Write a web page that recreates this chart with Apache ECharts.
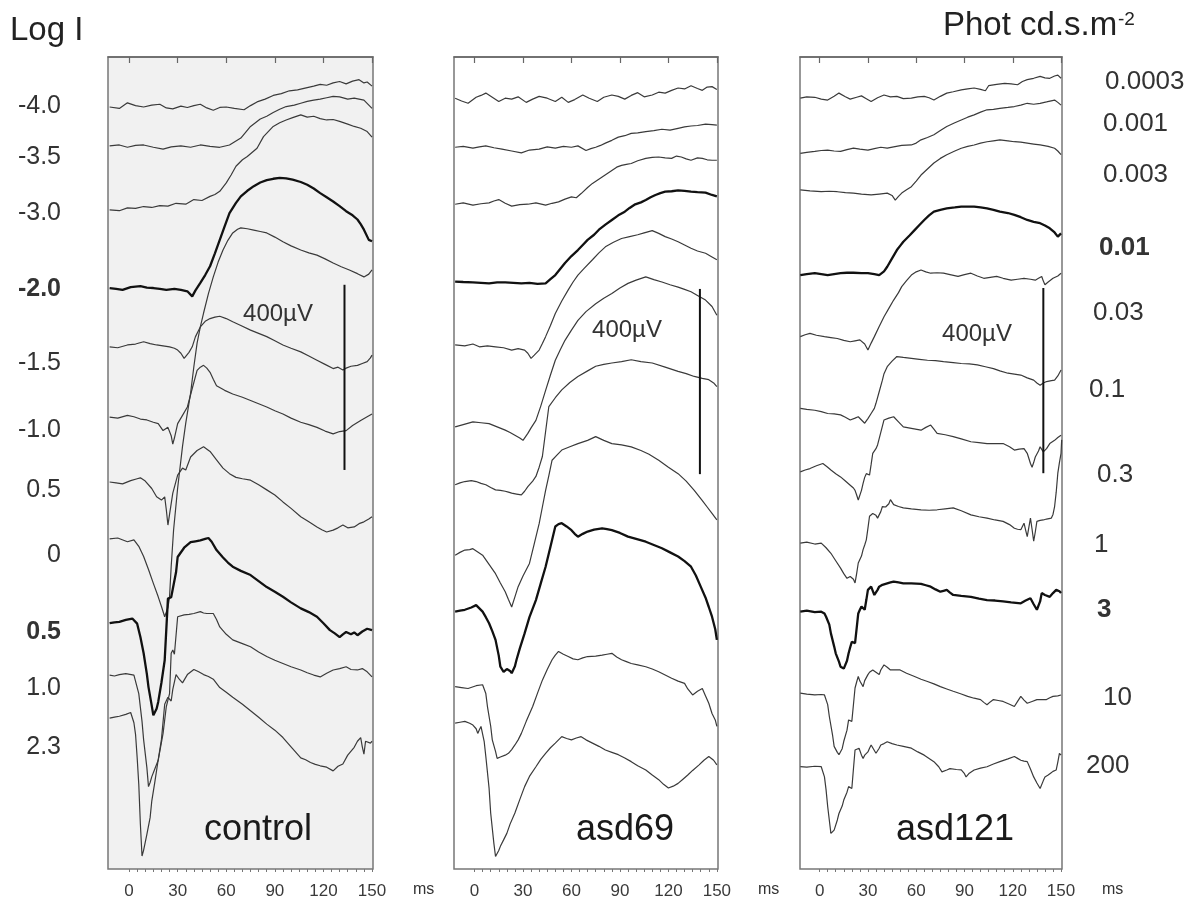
<!DOCTYPE html>
<html>
<head>
<meta charset="utf-8">
<script src="https://cdn.jsdelivr.net/npm/echarts@6/dist/echarts.min.js"></script>
<style>
html, body { margin: 0; background: #fff; }
#main { width: 1196px; height: 901px; }
</style>
</head>
<body>
<div id="main"></div>
<script>
// ERG traces, [ms, µV] relative to each trace's own start level
const panelNames = ['control', 'asd69', 'asd121'];
const logLabels = ['-4.0', '-3.5', '-3.0', '-2.0', '-1.5', '-1.0', '0.5', '0', '0.5', '1.0', '2.3'];
const photLabels = ['0.0003', '0.001', '0.003', '0.01', '0.03', '0.1', '0.3', '1', '3', '10', '200'];
const boldTraces = [3, 8];
const majorTicks = [0, 30, 60, 90, 120, 150];
const minorTicks = [0, 5, 10, 15, 20, 25, 30, 35, 40, 45, 50, 55, 60, 65, 70, 75, 80, 85, 90, 95, 100, 105, 110, 115, 120, 125, 130, 135, 140, 145, 150];
const scaleBarUV = 400;

// vertical spacing of the traces (µV below panel top)
const controlOffset = [108, 192, 330, 499, 626, 778, 918, 1041, 1223, 1335, 1428];
const asd69Offset = [89, 195, 318, 485, 622, 799, 924, 1076, 1198, 1360, 1439];
const asd121Offset = [89, 208, 287, 471, 604, 759, 896, 1050, 1198, 1374, 1533];

const control = [
  [[-12,0],[-6,-3],[-1,9],[4,3],[9,0],[14,4],[19,6],[23,-2],[27,-4],[32,2],[36,-1],[40,3],[44,6],[48,-2],[52,-7],[56,-1],[60,0],[65,-3],[71,-6],[75,3],[79,11],[84,17],[89,25],[94,29],[99,35],[104,37],[110,42],[114,45],[118,49],[122,47],[126,52],[130,55],[134,50],[138,56],[142,59],[145,52],[147,54],[150,45]],
  [[-12,0],[-6,2],[-1,-3],[4,1],[9,2],[15,-3],[21,-7],[26,-2],[32,0],[38,-3],[44,2],[50,-1],[56,-3],[62,2],[69,17],[75,42],[81,58],[85,64],[89,72],[93,79],[97,85],[102,88],[106,92],[110,96],[114,99],[118,101],[122,104],[126,107],[130,106],[135,101],[139,103],[145,99],[150,81]],
  [[-12,0],[-6,-2],[-1,4],[4,3],[9,7],[14,5],[19,9],[24,8],[29,14],[35,12],[40,22],[45,20],[50,29],[53,33],[56,40],[60,58],[63,75],[66,94],[70,108],[73,115],[79,133],[83,158],[89,180],[93,188],[97,194],[101,199],[106,205],[110,200],[114,202],[118,197],[122,194],[126,195],[130,191],[135,185],[139,180],[143,176],[147,169],[150,157]],
  [[-12,0],[-8,-2],[-4,-4],[1,2],[7,4],[11,1],[15,0],[19,-2],[23,-4],[28,-2],[32,-4],[36,-7],[39,-18],[41,-5],[44,11],[47,28],[50,47],[53,75],[56,104],[59,133],[62,162],[66,184],[69,198],[73,210],[77,220],[81,228],[85,233],[89,236],[93,238],[97,237],[101,234],[106,229],[110,223],[114,215],[118,205],[122,196],[126,187],[130,177],[134,166],[138,157],[141,148],[143,138],[145,126],[148,104],[150,101]],
  [[-12,0],[-7,-2],[-1,4],[4,6],[9,11],[13,7],[17,4],[21,2],[25,0],[28,-3],[30,-7],[32,-14],[34,-25],[35,-29],[37,-12],[39,0],[41,22],[44,43],[47,55],[50,61],[53,64],[56,66],[60,61],[64,54],[69,46],[75,36],[80,29],[85,22],[90,13],[95,4],[100,-3],[106,-11],[111,-20],[116,-29],[121,-38],[126,-47],[129,-44],[132,-50],[134,-46],[137,-42],[141,-40],[144,-36],[147,-32],[149,-24],[150,-18]],
  [[-12,0],[-7,-2],[-1,4],[3,1],[7,-4],[11,-6],[15,-11],[18,-14],[21,-29],[24,-22],[26,-40],[27,-58],[28,-45],[30,-14],[33,4],[36,22],[39,62],[42,101],[44,108],[46,112],[48,106],[50,97],[52,82],[54,68],[59,58],[64,50],[70,43],[75,36],[80,29],[85,22],[90,14],[95,7],[100,-2],[106,-11],[111,-16],[116,-22],[121,-30],[126,-36],[130,-31],[134,-29],[138,-18],[143,-7],[147,1],[150,7]],
  [[-12,0],[-8,-2],[-4,-4],[1,3],[5,7],[7,9],[10,2],[14,-14],[17,-32],[20,-39],[22,-32],[23,-60],[24,-93],[25,-70],[27,-24],[30,15],[33,30],[35,26],[38,54],[42,68],[46,76],[50,66],[54,48],[58,30],[62,18],[66,10],[70,7],[75,4],[80,-6],[85,-17],[90,-28],[95,-43],[100,-57],[106,-75],[111,-86],[116,-97],[119,-103],[122,-108],[126,-104],[129,-99],[132,-93],[135,-99],[139,-97],[142,-90],[145,-86],[148,-80],[150,-75]],
  [[-12,0],[-7,2],[-1,-6],[3,-2],[6,-16],[9,-38],[12,-66],[15,-96],[18,-125],[20,-146],[22,-168],[24,-148],[25,-125],[26,-60],[27.5,20],[30,110],[33,200],[35,250],[38,315],[40,372],[42,423],[44,458],[46,488],[49,530],[52,566],[55,598],[58,624],[61,645],[64,661],[67,669],[69,672],[73,670],[77,667],[81,664],[85,661],[90,652],[95,642],[100,633],[106,624],[111,618],[116,613],[121,605],[126,596],[131,588],[136,581],[141,573],[145,566],[148,572],[150,581]],
  [[-12,0],[-9,2],[-6,3],[-2,7],[2,10],[5,-1],[7,-30],[9,-65],[11,-110],[12,-138],[14,-178],[15,-199],[17,-185],[18,-170],[20,-128],[22,-80],[24,53],[26,56],[27,56],[29,110],[30,143],[34,163],[38,175],[41,177],[44,179],[47,182],[49,184],[51,176],[54,158],[58,142],[61,131],[64,122],[69,113],[75,104],[80,91],[85,78],[90,68],[95,57],[100,45],[106,32],[111,24],[116,14],[120,0],[124,-15],[127,-22],[130,-30],[132,-24],[134,-19],[137,-24],[139,-20],[141,-26],[144,-18],[147,-12],[150,-15]],
  [[-12,0],[-9,-2],[-6,1],[-2,3],[3,0],[6,-40],[8,-100],[9,-140],[11,-200],[12,-241],[13,-232],[14,-220],[16,-202],[18,-184],[21,-126],[23,-68],[25,-40],[26,47],[27,54],[28,45],[30,126],[34,130],[37,131],[40,133],[44,137],[46,134],[48,133],[52,133],[54,120],[56,104],[60,88],[64,76],[70,68],[75,61],[80,50],[85,40],[90,32],[95,25],[100,18],[106,11],[110,5],[114,0],[118,-4],[122,4],[126,11],[130,14],[134,18],[137,12],[141,11],[144,14],[147,7],[150,-4]],
  [[-12,0],[-9,2],[-6,4],[-2,8],[1,12],[3,-10],[4,-35],[5,-85],[6,-143],[7,-230],[8,-298],[9,-285],[11,-251],[13,-215],[14,-180],[16,-136],[18,-90],[20,-46],[22,30],[24,45],[26,37],[27,62],[29,94],[31,84],[33,76],[36,94],[40,105],[43,100],[46,94],[49,90],[52,84],[56,66],[60,56],[64,45],[70,30],[75,16],[80,2],[85,-13],[90,-26],[95,-42],[100,-62],[106,-86],[109,-90],[112,-96],[115,-100],[118,-103],[122,-106],[126,-114],[129,-104],[132,-99],[135,-80],[139,-63],[141,-50],[143,-42],[144,-62],[145,-78],[146,-50],[147,-46],[149,-54],[150,-50]]
];

const asd69 = [
  [[-12,0],[-8,-6],[-4,-11],[1,2],[4,6],[7,11],[11,2],[15,-7],[19,0],[23,-2],[27,3],[32,-9],[36,-2],[40,4],[45,0],[50,-7],[54,2],[58,-9],[62,-3],[67,7],[71,0],[76,-7],[80,2],[85,7],[89,4],[93,-2],[97,6],[101,12],[105,3],[110,7],[114,13],[118,11],[122,17],[126,22],[130,20],[134,27],[138,21],[141,17],[144,24],[147,25],[150,19]],
  [[-12,0],[-7,2],[-1,-2],[3,1],[7,3],[12,-1],[17,-4],[23,-8],[29,-12],[34,-6],[40,-4],[45,1],[50,-2],[55,2],[60,0],[64,3],[69,-7],[72,-3],[75,0],[78,4],[81,9],[85,15],[89,22],[93,25],[97,30],[101,31],[106,34],[111,36],[116,39],[121,37],[126,41],[130,44],[134,46],[138,47],[143,50],[147,49],[150,48]],
  [[-12,0],[-7,3],[-1,-2],[4,1],[9,3],[12,7],[15,10],[19,2],[23,-4],[28,-1],[33,0],[38,3],[44,-2],[48,2],[52,5],[56,11],[60,16],[63,14],[66,23],[70,36],[73,45],[76,52],[79,59],[82,66],[85,73],[88,80],[91,84],[94,86],[97,88],[101,94],[106,99],[110,101],[114,102],[118,100],[122,99],[125,104],[128,102],[131,98],[134,95],[138,100],[141,99],[144,96],[147,95],[150,95]],
  [[-12,0],[-7,-1],[-1,-2],[4,-3],[9,-4],[14,-2],[19,-2],[24,-3],[29,-4],[34,-3],[39,-5],[44,-4],[47,5],[50,14],[53,27],[56,40],[60,55],[64,68],[67,79],[70,90],[74,101],[77,112],[81,123],[85,133],[89,143],[93,151],[96,159],[99,166],[103,171],[106,176],[109,182],[112,187],[115,191],[118,194],[122,195],[126,197],[130,196],[134,194],[138,193],[143,192],[147,187],[150,184]],
  [[-12,0],[-6,-2],[-1,2],[3,-4],[8,-2],[13,-4],[18,-6],[23,-11],[27,-8],[31,-11],[33,-18],[35,-29],[37,-22],[40,-11],[42,3],[44,18],[47,42],[50,68],[54,95],[58,119],[61,136],[64,151],[68,166],[73,184],[77,199],[81,212],[86,222],[91,230],[96,234],[101,238],[105,242],[110,247],[114,241],[118,234],[122,229],[126,223],[130,216],[134,209],[138,203],[143,198],[147,190],[150,184]],
  [[-12,0],[-7,5],[-1,11],[4,9],[9,7],[14,0],[19,-7],[22,-12],[25,-18],[28,-24],[30,-29],[33,-14],[35,-2],[38,14],[41,45],[44,79],[47,112],[50,144],[53,166],[56,187],[60,209],[64,230],[69,249],[75,266],[80,278],[85,288],[90,300],[95,310],[100,317],[106,324],[111,318],[116,313],[121,307],[126,302],[130,297],[134,292],[138,284],[143,274],[147,260],[150,241]],
  [[-12,0],[-9,4],[-6,7],[-2,9],[1,7],[4,3],[7,0],[10,-6],[13,-11],[16,-12],[19,-14],[21,-16],[23,-18],[26,-20],[29,-22],[31,-14],[33,-4],[36,8],[38,18],[40,38],[42,61],[44,115],[46,169],[50,188],[54,205],[59,221],[64,234],[70,246],[75,256],[80,260],[85,263],[91,266],[97,270],[103,266],[110,263],[118,254],[126,245],[131,240],[136,234],[141,230],[145,227],[148,220],[150,212]],
  [[-12,0],[-9,6],[-6,11],[-3,12],[-1,14],[2,7],[5,0],[9,-20],[13,-40],[16,-60],[19,-79],[21,-96],[23,-112],[25,-90],[27,-68],[30,-45],[34,-18],[37,25],[40,68],[42,104],[44,140],[46,172],[48,205],[51,216],[54,227],[59,234],[64,241],[70,248],[75,256],[80,248],[85,241],[91,238],[97,234],[103,226],[108,218],[114,205],[120,190],[126,176],[131,160],[136,140],[141,118],[144,104],[147,90],[150,76]],
  [[-12,0],[-9,2],[-6,4],[-2,9],[1,14],[3,7],[5,0],[7,-12],[9,-25],[11,-42],[13,-61],[15,-95],[16,-119],[18,-130],[20,-124],[21,-122],[22,-128],[23,-133],[25,-118],[26,-104],[28,-80],[31,-47],[34,-12],[38,25],[41,61],[44,97],[47,140],[50,184],[52,189],[54,191],[57,184],[60,176],[62,168],[64,162],[67,168],[70,173],[74,177],[79,180],[82,178],[85,176],[90,170],[95,162],[100,157],[106,151],[111,144],[116,137],[121,128],[126,119],[130,109],[134,97],[137,78],[140,54],[143,30],[145,10],[147,-11],[149,-38],[150,-61]],
  [[-12,0],[-8,-2],[-4,-4],[1,2],[5,4],[7,-15],[8,-43],[10,-85],[11,-115],[13,-140],[14,-155],[16,-152],[17,-151],[19,-148],[21,-144],[23,-136],[25,-126],[27,-115],[29,-101],[32,-75],[36,-43],[39,-14],[42,14],[45,37],[48,58],[50,68],[52,76],[55,70],[58,65],[61,60],[64,58],[67,62],[70,65],[75,66],[79,68],[82,70],[85,72],[88,64],[91,58],[94,54],[97,50],[101,47],[106,43],[110,38],[114,32],[118,25],[122,18],[126,12],[130,7],[132,-5],[135,-18],[138,-10],[141,-4],[143,-20],[145,-36],[147,-58],[149,-72],[150,-86]],
  [[-12,0],[-9,2],[-6,4],[-3,0],[-1,-4],[1,-12],[2,-22],[3,-14],[4,-7],[6,-40],[7,-72],[9,-140],[10,-194],[12,-260],[13,-288],[15,-275],[16,-266],[18,-252],[20,-238],[22,-218],[25,-194],[28,-165],[31,-137],[34,-115],[38,-94],[41,-78],[44,-65],[47,-53],[50,-43],[52,-36],[54,-29],[57,-33],[60,-36],[63,-32],[66,-29],[69,-36],[73,-43],[77,-50],[81,-58],[85,-63],[89,-68],[93,-75],[97,-83],[101,-92],[106,-101],[110,-112],[114,-122],[117,-132],[120,-140],[123,-136],[126,-130],[129,-121],[132,-112],[135,-102],[139,-90],[142,-80],[145,-72],[148,-80],[150,-90]]
];

const asd121 = [
  [[-12,0],[-8,3],[-3,2],[1,-2],[5,-4],[9,4],[12,11],[16,3],[19,-2],[23,2],[26,5],[29,-1],[32,-7],[36,1],[40,7],[44,3],[48,4],[52,-1],[57,0],[61,3],[65,4],[68,1],[71,-4],[75,4],[79,11],[83,14],[88,18],[92,20],[96,22],[100,19],[103,16],[105,27],[106,29],[110,30],[115,32],[119,31],[123,29],[126,36],[129,40],[133,43],[137,47],[140,44],[143,43],[146,48],[148,50],[150,43]],
  [[-12,0],[-8,2],[-3,4],[1,6],[5,7],[9,5],[13,4],[17,8],[21,11],[25,9],[30,7],[34,10],[38,13],[42,11],[46,14],[51,17],[57,18],[60,22],[63,29],[67,34],[71,40],[75,49],[79,58],[84,66],[88,72],[92,78],[96,83],[100,89],[104,94],[108,95],[112,97],[117,99],[121,101],[125,104],[129,108],[133,106],[137,108],[141,111],[146,115],[148,110],[150,104]],
  [[-12,0],[-6,-2],[1,-4],[6,-3],[11,-4],[16,-6],[21,-7],[26,-9],[32,-11],[37,-9],[42,-7],[45,-12],[47,-22],[49,-14],[51,-7],[54,0],[57,7],[60,19],[63,32],[67,45],[71,58],[75,68],[79,76],[84,84],[88,90],[92,94],[96,97],[100,101],[104,104],[108,106],[112,108],[117,106],[121,104],[125,103],[129,101],[133,99],[137,97],[142,94],[146,90],[148,84],[150,76]],
  [[-12,0],[-8,2],[-3,4],[1,2],[5,0],[9,2],[13,4],[17,5],[21,5],[26,4],[30,4],[34,2],[37,0],[40,8],[42,18],[45,36],[48,54],[50,63],[52,72],[56,86],[59,97],[62,108],[65,119],[68,129],[71,137],[75,141],[79,144],[84,146],[88,148],[92,148],[96,148],[100,146],[104,144],[108,141],[112,137],[117,134],[121,130],[125,125],[129,119],[133,115],[137,112],[140,107],[143,101],[146,92],[148,83],[150,90]],
  [[-12,0],[-9,4],[-6,7],[-2,3],[3,0],[7,-2],[11,-4],[15,-8],[19,-11],[22,-9],[25,-7],[28,-16],[30,-29],[32,-14],[34,0],[37,22],[40,43],[43,61],[46,79],[49,95],[51,108],[54,121],[57,133],[60,140],[63,144],[66,140],[69,137],[73,138],[77,137],[81,134],[86,130],[90,134],[94,137],[98,131],[102,126],[106,128],[110,130],[114,126],[119,122],[123,124],[127,126],[131,124],[134,122],[136,126],[138,130],[139,120],[140,112],[142,118],[145,126],[148,131],[150,137]],
  [[-12,0],[-8,-2],[-3,-4],[1,-7],[5,-11],[9,-12],[13,-14],[16,-19],[19,-25],[22,-21],[24,-18],[26,-25],[28,-32],[30,-22],[32,-11],[34,0],[35,11],[37,36],[39,61],[40,75],[42,90],[45,102],[48,112],[52,110],[57,108],[62,106],[67,104],[72,103],[77,101],[83,99],[88,97],[93,96],[98,94],[103,90],[108,86],[112,81],[117,76],[121,74],[125,72],[129,66],[133,61],[135,55],[137,50],[139,55],[141,58],[144,60],[146,61],[148,70],[150,83]],
  [[-12,0],[-9,4],[-6,7],[-2,13],[2,18],[5,10],[7,4],[10,-4],[13,-11],[16,-20],[19,-29],[21,-35],[22,-40],[23,-50],[24,-61],[26,-40],[27,-25],[28,-12],[29,-4],[31,-7],[32,16],[33,40],[35,50],[36,58],[38,85],[40,112],[43,116],[46,119],[49,108],[52,97],[57,94],[63,90],[66,96],[69,101],[71,92],[73,83],[78,80],[83,76],[88,71],[94,65],[99,63],[104,61],[109,61],[114,61],[118,54],[121,47],[124,49],[127,50],[129,40],[131,18],[132,10],[133,20],[134,32],[136,45],[137,54],[139,43],[141,50],[143,61],[146,68],[148,74],[150,79]],
  [[-12,0],[-8,2],[-3,-2],[1,0],[4,-10],[7,-22],[10,-38],[13,-54],[15,-66],[17,-76],[19,-72],[20,-68],[21,-78],[22,-86],[23,-66],[24,-43],[26,-28],[27,-14],[28,-4],[29,7],[30,32],[31,58],[33,64],[34,68],[35,60],[36,54],[38,68],[39,79],[41,78],[42,76],[43,85],[44,94],[46,83],[49,79],[52,76],[57,74],[63,72],[68,71],[73,72],[78,74],[83,76],[88,70],[94,61],[99,57],[104,54],[109,50],[114,47],[118,40],[121,32],[123,30],[125,29],[126,36],[127,43],[128,28],[129,14],[130,34],[131,54],[132,30],[133,4],[134,24],[135,47],[137,49],[139,50],[141,52],[144,54],[145,62],[146,79],[147,110],[148,151],[149,174],[150,194],[150.4,223]],
  [[-12,0],[-8,2],[-3,-1],[1,0],[3,-4],[4,-11],[6,-28],[7,-47],[9,-75],[10,-90],[12,-108],[13,-119],[15,-123],[16,-122],[17,-106],[18,-90],[19,-77],[20,-65],[21,-64],[22,-68],[23,-36],[24,-4],[25,4],[26,11],[27,8],[28,4],[29,25],[30,47],[31,51],[32,54],[33,45],[34,36],[36,47],[37,54],[39,58],[42,61],[44,63],[46,65],[49,63],[52,61],[57,61],[63,60],[66,57],[69,54],[72,48],[75,43],[77,45],[79,47],[81,41],[83,36],[88,34],[94,32],[99,28],[104,25],[109,24],[114,22],[119,20],[125,18],[128,24],[131,29],[133,16],[135,4],[137,22],[138,40],[140,36],[143,32],[145,40],[147,47],[149,44],[150,40]],
  [[-12,0],[-8,-2],[-3,-4],[1,-3],[3,-4],[5,-25],[6,-50],[8,-90],[9,-115],[11,-128],[12,-133],[14,-120],[15,-104],[17,-80],[18,-58],[19,-59],[20,-61],[21,-25],[22,11],[23,24],[24,36],[25,26],[27,14],[28,27],[30,40],[31,45],[33,50],[35,45],[37,40],[38,50],[40,61],[42,56],[44,50],[47,50],[50,50],[54,43],[59,36],[63,30],[67,25],[71,20],[75,14],[79,9],[83,4],[88,-2],[92,-7],[96,-11],[100,-14],[102,-20],[104,-25],[106,-19],[108,-14],[111,-16],[114,-18],[118,-24],[121,-29],[123,-18],[125,-7],[127,-15],[129,-22],[132,-18],[135,-14],[138,-14],[141,-14],[143,-10],[145,-7],[148,-6],[150,-4]],
  [[-12,0],[-8,-1],[-3,1],[1,0],[3,-22],[4,-50],[5,-86],[6,-115],[7,-144],[8,-142],[9,-137],[11,-115],[12,-101],[14,-85],[15,-72],[17,-55],[18,-43],[19,-45],[20,-47],[21,-5],[22,36],[23,38],[24.5,40],[26,25],[27,18],[28,25],[30,32],[31,40],[32,47],[34,35],[35,29],[37,40],[38,47],[40,50],[42,54],[45,50],[48,47],[52,44],[57,40],[61,32],[65,25],[68,18],[71,11],[74,0],[76,-11],[79,-7],[81,-4],[85,-6],[88,-7],[90,-15],[91,-22],[93,-14],[96,-7],[100,-3],[104,0],[108,6],[112,11],[117,17],[121,22],[123,18],[125,14],[127,12],[129,11],[131,-5],[133,-22],[135,-35],[137,-47],[139,-30],[140,-22],[142,-18],[143.5,-14],[145,-10],[147,-7],[148,10],[149,29],[150,25]]
];

// ---- layout (pixels) ----
const panelTop = 57, panelHeight = 812;
const uvPerPx = 2.16;
const yMinUV = -panelHeight * uvPerPx;
const grids = [
  { left: 108, width: 265, bg: '#f1f1f1', xMin: -13, xMax: 150.6 },
  { left: 454, width: 264, bg: '#ffffff', xMin: -12.7, xMax: 150.7 },
  { left: 800, width: 262, bg: '#ffffff', xMin: -12.2, xMax: 150.6 }
];
const barX = [133, 139.5, 139];
const barTop = [492, 501, 499];
const logY = [106, 157, 213, 289, 363, 430, 490, 555, 632, 688, 747];
const photX = [1105, 1103, 1103, 1099, 1093, 1089, 1097, 1094, 1097, 1103, 1086];
const photY = [82, 124, 175, 248, 313, 390, 475, 545, 610, 698, 766];
const uvText = [[278, 314], [627, 330], [977, 334]];
const nameCenter = [258, 625, 955];
const FONT = '"Liberation Sans", Arial, Helvetica, sans-serif';

const panels = [
  { traces: control, offsets: controlOffset },
  { traces: asd69, offsets: asd69Offset },
  { traces: asd121, offsets: asd121Offset }
];

const chart = echarts.init(document.getElementById('main'), null, { renderer: 'canvas' });

const grid = [], xAxis = [], yAxis = [], series = [];
grids.forEach(function (g, i) {
  grid.push({
    left: g.left, top: panelTop, width: g.width, height: panelHeight,
    show: true, backgroundColor: g.bg, borderColor: '#777', borderWidth: 1.5
  });
  // major ticks + labels
  xAxis.push({
    type: 'value', gridIndex: i, min: g.xMin, max: g.xMax, position: 'bottom',
    axisLine: { show: true, lineStyle: { color: '#666', width: 1.5 } },
    axisTick: { show: true, customValues: majorTicks, length: 6, lineStyle: { color: '#666', width: 1.2 } },
    axisLabel: { customValues: majorTicks, fontSize: 17, color: '#3a3a3a', margin: 14, fontFamily: FONT },
    splitLine: { show: false }
  });
  // minor ticks every 5 ms
  xAxis.push({
    type: 'value', gridIndex: i, min: g.xMin, max: g.xMax, position: 'bottom',
    axisLine: { show: false },
    axisTick: { show: true, customValues: minorTicks, length: 3, lineStyle: { color: '#777', width: 1 } },
    axisLabel: { show: false },
    splitLine: { show: false }
  });
  yAxis.push({ type: 'value', gridIndex: i, min: yMinUV, max: 0, show: false });
});

panels.forEach(function (p, i) {
  p.traces.forEach(function (tr, k) {
    const bold = boldTraces.indexOf(k) >= 0;
    series.push({
      type: 'line', xAxisIndex: 2 * i, yAxisIndex: i,
      data: tr.map(function (d) { return [d[0], d[1] - p.offsets[k]]; }),
      showSymbol: false, symbol: 'none', silent: true, animation: false,
      lineStyle: { color: bold ? '#111' : '#3a3a3a', width: bold ? 2.3 : 1.2 },
      z: bold ? 4 : 3
    });
  });
  // 400 µV scale bar
  series.push({
    type: 'line', xAxisIndex: 2 * i, yAxisIndex: i,
    data: [[barX[i], -barTop[i]], [barX[i], -(barTop[i] + scaleBarUV)]],
    showSymbol: false, symbol: 'none', silent: true, animation: false,
    lineStyle: { color: '#111', width: 2 }, z: 5
  });
});

function txt(x, y, s, size, opt) {
  opt = opt || {};
  return {
    type: 'text', x: x, y: y, z: 10, silent: true,
    style: {
      text: s, fill: opt.color || '#222',
      font: (opt.bold ? 'bold ' : '') + size + 'px ' + FONT,
      align: opt.align || 'left', textAlign: opt.align || 'left',
      verticalAlign: 'middle', textVerticalAlign: 'middle'
    }
  };
}

const graphic = [];
graphic.push(txt(10, 31, 'Log I', 33));
graphic.push(txt(943, 26, 'Phot cd.s.m', 33));
graphic.push(txt(1118, 20, '-2', 19));
logLabels.forEach(function (s, k) {
  graphic.push(txt(61, logY[k], s, 25, { align: 'right', bold: boldTraces.indexOf(k) >= 0, color: '#333' }));
});
photLabels.forEach(function (s, k) {
  graphic.push(txt(photX[k], photY[k], s, 26, { bold: boldTraces.indexOf(k) >= 0, color: '#333' }));
});
panelNames.forEach(function (s, i) {
  graphic.push(txt(nameCenter[i], 830, s, 36, { align: 'center', color: '#1a1a1a' }));
  graphic.push(txt(uvText[i][0], uvText[i][1], '400µV', 24, { align: 'center', color: '#333' }));
  graphic.push(txt(grids[i].left + grids[i].width + 40, 890, 'ms', 16, { color: '#333' }));
});

chart.setOption({
  animation: false,
  backgroundColor: '#ffffff',
  grid: grid,
  xAxis: xAxis,
  yAxis: yAxis,
  series: series,
  graphic: graphic
});
</script>
</body>
</html>
